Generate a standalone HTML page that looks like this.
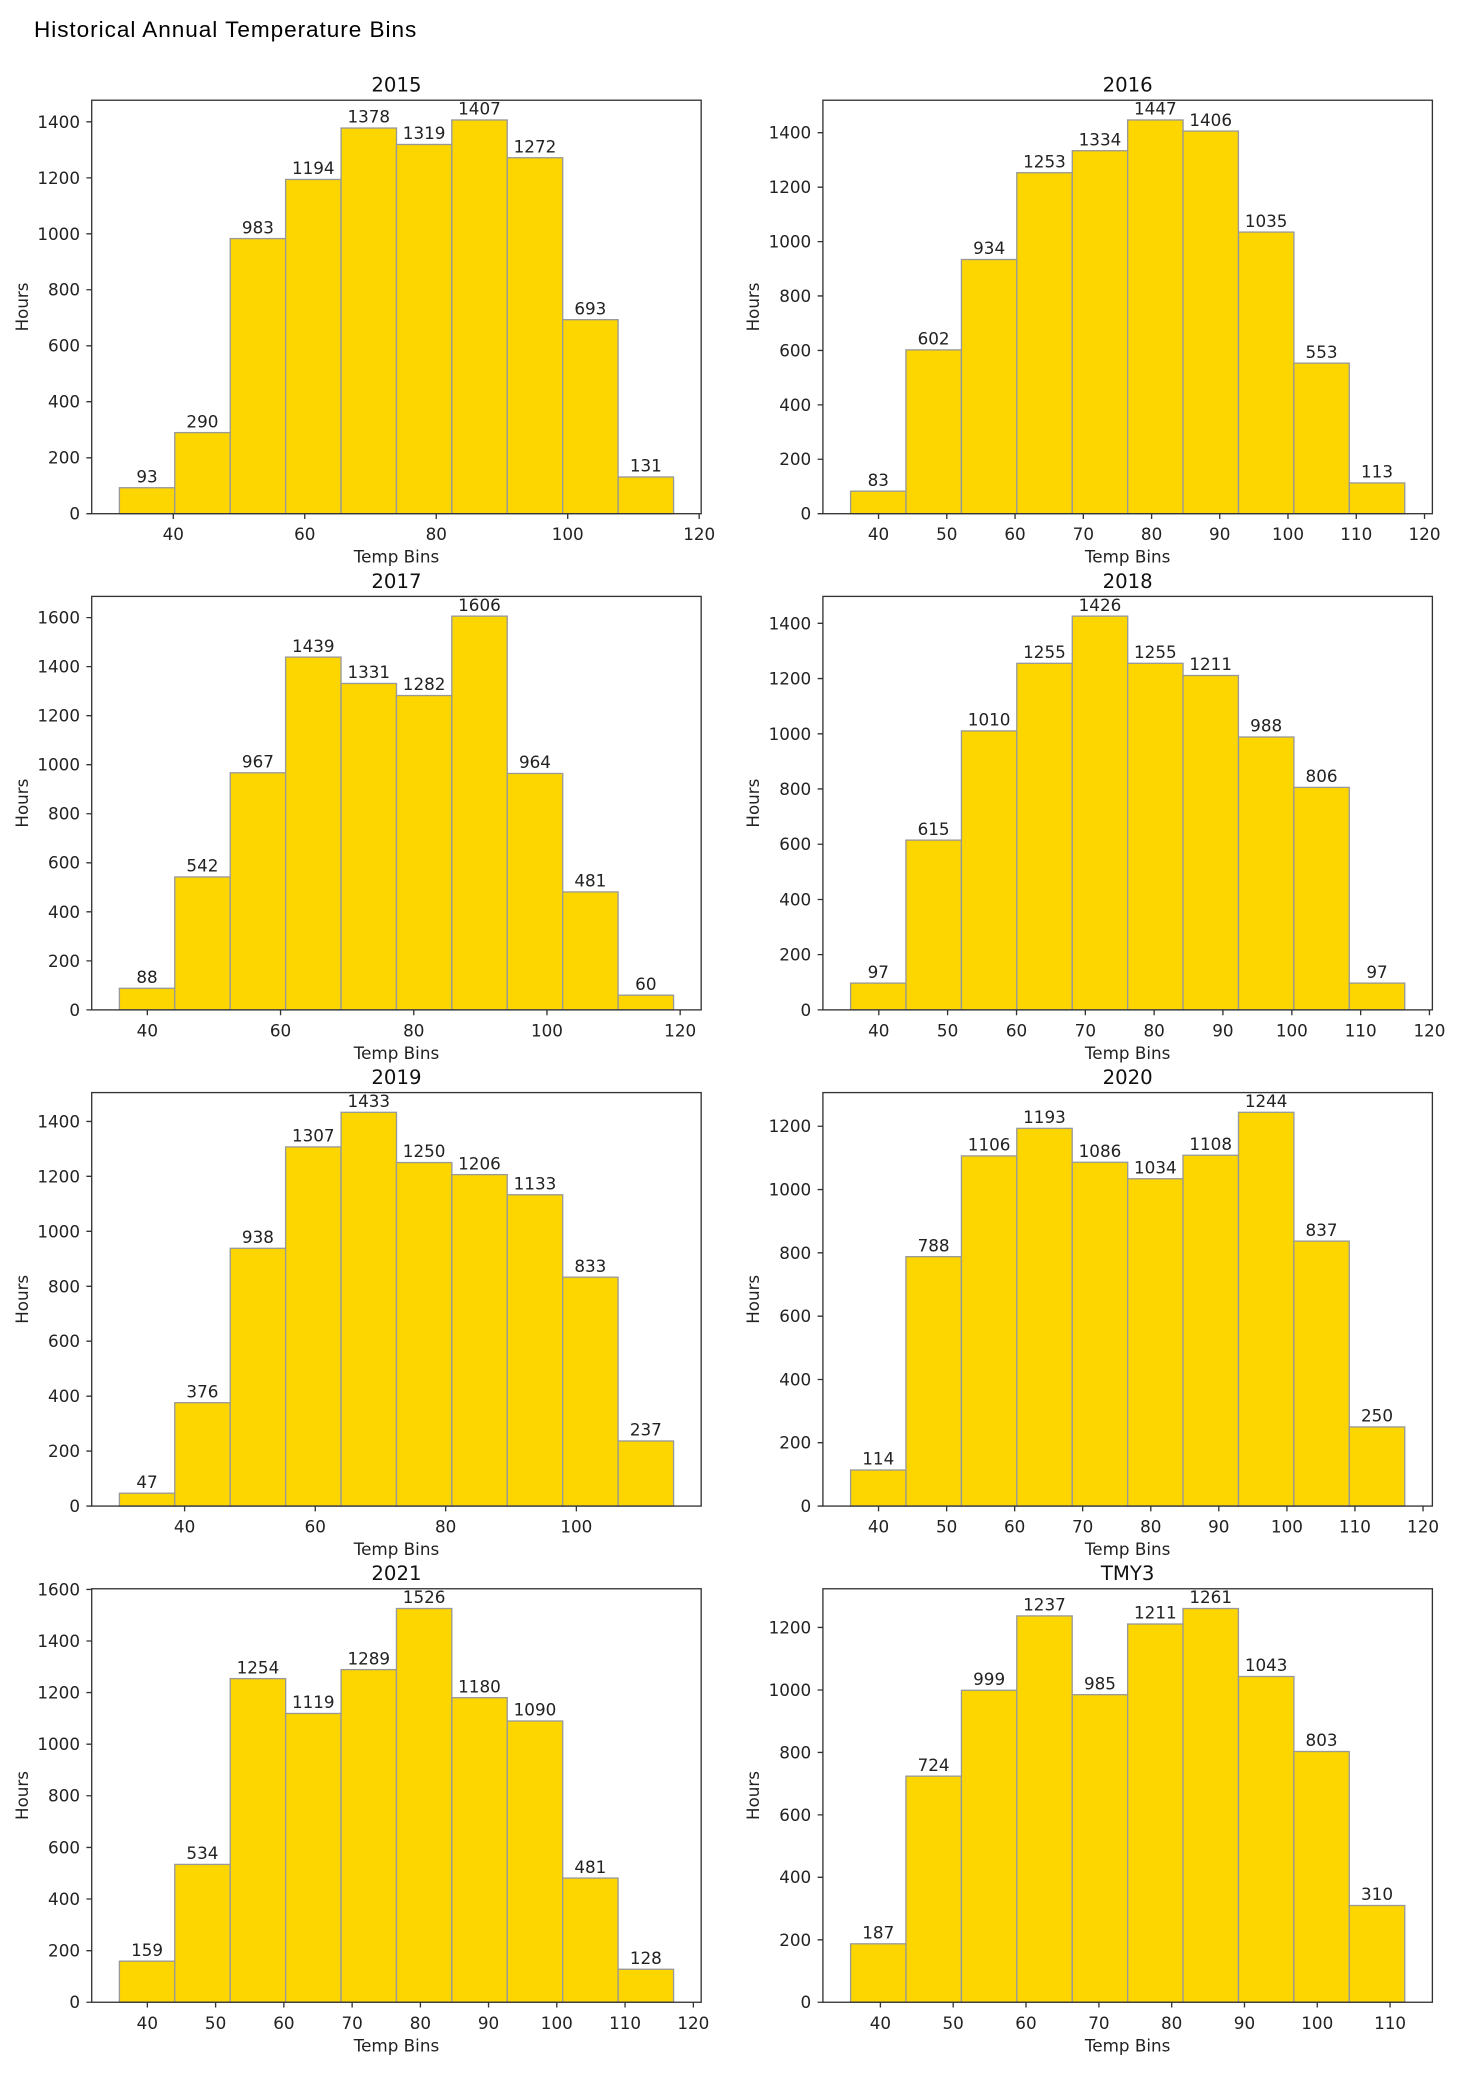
<!DOCTYPE html>
<html><head><meta charset="utf-8"><style>html,body{margin:0;padding:0;background:#fff}svg{display:block}</style></head>
<body>
<svg width="1460" height="2088" viewBox="0 0 1100 1573" preserveAspectRatio="none" xmlns="http://www.w3.org/2000/svg" font-family="'DejaVu Sans', 'Liberation Sans', sans-serif">
<style>
.b{fill:#FDD600;stroke:#999;stroke-width:1}
.ax{fill:none;stroke:#333;stroke-width:1}
.t{font-size:12.6px;fill:#222}
.tk{stroke:#333;stroke-width:1}
.ti{font-size:14.8px;fill:#111;text-anchor:middle}
.m{text-anchor:middle}
.e{text-anchor:end}
</style>
<text x="25.6" y="28" font-family="'Liberation Sans', sans-serif" font-size="17" fill="#000" textLength="288">Historical Annual Temperature Bins</text>

<!-- 2015 -->
<g transform="translate(69.1,75.5) scale(1.0026,0.9984)">
<rect class="b" x="20.8" y="292.4" width="41.64" height="19.6"/>
<rect class="b" x="62.4" y="250.8" width="41.64" height="61.2"/>
<rect class="b" x="104.1" y="104.4" width="41.64" height="207.6"/>
<rect class="b" x="145.7" y="59.8" width="41.64" height="252.2"/>
<rect class="b" x="187.4" y="21.0" width="41.64" height="291"/>
<rect class="b" x="229.0" y="33.4" width="41.64" height="278.6"/>
<rect class="b" x="270.6" y="14.9" width="41.64" height="297.1"/>
<rect class="b" x="312.3" y="43.4" width="41.64" height="268.6"/>
<rect class="b" x="353.9" y="165.6" width="41.64" height="146.4"/>
<rect class="b" x="395.6" y="284.3" width="41.64" height="27.7"/>
<rect class="ax" x="0" y="0" width="458" height="312"/>
<g class="t m">
<text x="41.6" y="288.4">93</text><text x="83.2" y="246.8">290</text><text x="124.9" y="100.4">983</text><text x="166.5" y="55.8">1194</text><text x="208.2" y="17">1378</text><text x="249.8" y="29.4">1319</text><text x="291.4" y="10.9">1407</text><text x="333.1" y="39.4">1272</text><text x="374.7" y="161.6">693</text><text x="416.4" y="280.3">131</text>
<text x="61.3" y="332">40</text><text x="160.1" y="332">60</text><text x="258.9" y="332">80</text><text x="357.7" y="332">100</text><text x="456.5" y="332">120</text>
<text x="229" y="349">Temp Bins</text>
</g>
<path class="tk" d="M61.3 312v4M160.1 312v4M258.9 312v4M357.7 312v4M456.5 312v4M0 312h-4M0 269.8h-4M0 227.5h-4M0 185.3h-4M0 143h-4M0 100.8h-4M0 58.6h-4M0 16.3h-4"/>
<g class="t e"><text x="-8.8" y="316.5">0</text><text x="-8.8" y="274.3">200</text><text x="-8.8" y="232">400</text><text x="-8.8" y="189.8">600</text><text x="-8.8" y="147.5">800</text><text x="-8.8" y="105.3">1000</text><text x="-8.8" y="63.1">1200</text><text x="-8.8" y="20.8">1400</text></g>
<text class="t m" transform="translate(-48,156) rotate(-90)">Hours</text>
<text class="ti" x="229" y="-6.5">2015</text>
</g>

<!-- 2016 -->
<g transform="translate(620,75.5) scale(1.0026,0.9984)">
<rect class="b" x="20.8" y="295.0" width="41.64" height="17"/>
<rect class="b" x="62.4" y="188.4" width="41.64" height="123.6"/>
<rect class="b" x="104.1" y="120.2" width="41.64" height="191.8"/>
<rect class="b" x="145.7" y="54.7" width="41.64" height="257.3"/>
<rect class="b" x="187.4" y="38.1" width="41.64" height="273.9"/>
<rect class="b" x="229.0" y="14.9" width="41.64" height="297.1"/>
<rect class="b" x="270.6" y="23.3" width="41.64" height="288.7"/>
<rect class="b" x="312.3" y="99.5" width="41.64" height="212.5"/>
<rect class="b" x="353.9" y="198.4" width="41.64" height="113.6"/>
<rect class="b" x="395.6" y="288.8" width="41.64" height="23.2"/>
<rect class="ax" x="0" y="0" width="458" height="312"/>
<g class="t m">
<text x="41.6" y="291">83</text><text x="83.2" y="184.4">602</text><text x="124.9" y="116.2">934</text><text x="166.5" y="50.7">1253</text><text x="208.2" y="34.1">1334</text><text x="249.8" y="10.9">1447</text><text x="291.4" y="19.3">1406</text><text x="333.1" y="95.5">1035</text><text x="374.7" y="194.4">553</text><text x="416.4" y="284.8">113</text>
<text x="41.8" y="332">40</text><text x="93.1" y="332">50</text><text x="144.4" y="332">60</text><text x="195.7" y="332">70</text><text x="247" y="332">80</text><text x="298.2" y="332">90</text><text x="349.5" y="332">100</text><text x="400.8" y="332">110</text><text x="452.1" y="332">120</text>
<text x="229" y="349">Temp Bins</text>
</g>
<path class="tk" d="M41.8 312v4M93.1 312v4M144.4 312v4M195.7 312v4M247 312v4M298.2 312v4M349.5 312v4M400.8 312v4M452.1 312v4M0 312h-4M0 270.9h-4M0 229.9h-4M0 188.8h-4M0 147.7h-4M0 106.7h-4M0 65.6h-4M0 24.5h-4"/>
<g class="t e"><text x="-8.8" y="316.5">0</text><text x="-8.8" y="275.4">200</text><text x="-8.8" y="234.4">400</text><text x="-8.8" y="193.3">600</text><text x="-8.8" y="152.2">800</text><text x="-8.8" y="111.2">1000</text><text x="-8.8" y="70.1">1200</text><text x="-8.8" y="29">1400</text></g>
<text class="t m" transform="translate(-48,156) rotate(-90)">Hours</text>
<text class="ti" x="229" y="-6.5">2016</text>
</g>

<!-- 2017 -->
<g transform="translate(69.1,449.3) scale(1.0026,0.9984)">
<rect class="b" x="20.8" y="295.7" width="41.64" height="16.3"/>
<rect class="b" x="62.4" y="211.7" width="41.64" height="100.3"/>
<rect class="b" x="104.1" y="133.1" width="41.64" height="178.9"/>
<rect class="b" x="145.7" y="45.8" width="41.64" height="266.2"/>
<rect class="b" x="187.4" y="65.7" width="41.64" height="246.3"/>
<rect class="b" x="229.0" y="74.8" width="41.64" height="237.2"/>
<rect class="b" x="270.6" y="14.9" width="41.64" height="297.1"/>
<rect class="b" x="312.3" y="133.6" width="41.64" height="178.4"/>
<rect class="b" x="353.9" y="223.0" width="41.64" height="89"/>
<rect class="b" x="395.6" y="300.9" width="41.64" height="11.1"/>
<rect class="ax" x="0" y="0" width="458" height="312"/>
<g class="t m">
<text x="41.6" y="291.7">88</text><text x="83.2" y="207.7">542</text><text x="124.9" y="129.1">967</text><text x="166.5" y="41.8">1439</text><text x="208.2" y="61.7">1331</text><text x="249.8" y="70.8">1282</text><text x="291.4" y="10.9">1606</text><text x="333.1" y="129.6">964</text><text x="374.7" y="219">481</text><text x="416.4" y="296.9">60</text>
<text x="41.8" y="332">40</text><text x="141.9" y="332">60</text><text x="242" y="332">80</text><text x="342.1" y="332">100</text><text x="442.2" y="332">120</text>
<text x="229" y="349">Temp Bins</text>
</g>
<path class="tk" d="M41.8 312v4M141.9 312v4M242 312v4M342.1 312v4M442.2 312v4M0 312h-4M0 275h-4M0 238h-4M0 201h-4M0 164h-4M0 127h-4M0 90h-4M0 53h-4M0 16h-4"/>
<g class="t e"><text x="-8.8" y="316.5">0</text><text x="-8.8" y="279.5">200</text><text x="-8.8" y="242.5">400</text><text x="-8.8" y="205.5">600</text><text x="-8.8" y="168.5">800</text><text x="-8.8" y="131.5">1000</text><text x="-8.8" y="94.5">1200</text><text x="-8.8" y="57.5">1400</text><text x="-8.8" y="20.5">1600</text></g>
<text class="t m" transform="translate(-48,156) rotate(-90)">Hours</text>
<text class="ti" x="229" y="-6.5">2017</text>
</g>

<!-- 2018 -->
<g transform="translate(620,449.3) scale(1.0026,0.9984)">
<rect class="b" x="20.8" y="291.8" width="41.64" height="20.2"/>
<rect class="b" x="62.4" y="183.9" width="41.64" height="128.1"/>
<rect class="b" x="104.1" y="101.5" width="41.64" height="210.5"/>
<rect class="b" x="145.7" y="50.5" width="41.64" height="261.5"/>
<rect class="b" x="187.4" y="14.9" width="41.64" height="297.1"/>
<rect class="b" x="229.0" y="50.5" width="41.64" height="261.5"/>
<rect class="b" x="270.6" y="59.7" width="41.64" height="252.3"/>
<rect class="b" x="312.3" y="106.1" width="41.64" height="205.9"/>
<rect class="b" x="353.9" y="144.1" width="41.64" height="167.9"/>
<rect class="b" x="395.6" y="291.8" width="41.64" height="20.2"/>
<rect class="ax" x="0" y="0" width="458" height="312"/>
<g class="t m">
<text x="41.6" y="287.8">97</text><text x="83.2" y="179.9">615</text><text x="124.9" y="97.5">1010</text><text x="166.5" y="46.5">1255</text><text x="208.2" y="10.9">1426</text><text x="249.8" y="46.5">1255</text><text x="291.4" y="55.7">1211</text><text x="333.1" y="102.1">988</text><text x="374.7" y="140.1">806</text><text x="416.4" y="287.8">97</text>
<text x="42" y="332">40</text><text x="93.7" y="332">50</text><text x="145.5" y="332">60</text><text x="197.2" y="332">70</text><text x="248.9" y="332">80</text><text x="300.6" y="332">90</text><text x="352.4" y="332">100</text><text x="404.1" y="332">110</text><text x="455.8" y="332">120</text>
<text x="229" y="349">Temp Bins</text>
</g>
<path class="tk" d="M42 312v4M93.7 312v4M145.5 312v4M197.2 312v4M248.9 312v4M300.6 312v4M352.4 312v4M404.1 312v4M455.8 312v4M0 312h-4M0 270.3h-4M0 228.7h-4M0 187h-4M0 145.3h-4M0 103.7h-4M0 62h-4M0 20.3h-4"/>
<g class="t e"><text x="-8.8" y="316.5">0</text><text x="-8.8" y="274.8">200</text><text x="-8.8" y="233.2">400</text><text x="-8.8" y="191.5">600</text><text x="-8.8" y="149.8">800</text><text x="-8.8" y="108.2">1000</text><text x="-8.8" y="66.5">1200</text><text x="-8.8" y="24.8">1400</text></g>
<text class="t m" transform="translate(-48,156) rotate(-90)">Hours</text>
<text class="ti" x="229" y="-6.5">2018</text>
</g>

<!-- 2019 -->
<g transform="translate(69.1,823.1) scale(1.0026,0.9984)">
<rect class="b" x="20.8" y="302.3" width="41.64" height="9.7"/>
<rect class="b" x="62.4" y="234.0" width="41.64" height="78"/>
<rect class="b" x="104.1" y="117.5" width="41.64" height="194.5"/>
<rect class="b" x="145.7" y="41.0" width="41.64" height="271"/>
<rect class="b" x="187.4" y="14.9" width="41.64" height="297.1"/>
<rect class="b" x="229.0" y="52.8" width="41.64" height="259.2"/>
<rect class="b" x="270.6" y="61.9" width="41.64" height="250.1"/>
<rect class="b" x="312.3" y="77.1" width="41.64" height="234.9"/>
<rect class="b" x="353.9" y="139.3" width="41.64" height="172.7"/>
<rect class="b" x="395.6" y="262.9" width="41.64" height="49.1"/>
<rect class="ax" x="0" y="0" width="458" height="312"/>
<g class="t m">
<text x="41.6" y="298.3">47</text><text x="83.2" y="230">376</text><text x="124.9" y="113.5">938</text><text x="166.5" y="37">1307</text><text x="208.2" y="10.9">1433</text><text x="249.8" y="48.8">1250</text><text x="291.4" y="57.9">1206</text><text x="333.1" y="73.1">1133</text><text x="374.7" y="135.3">833</text><text x="416.4" y="258.9">237</text>
<text x="69.8" y="332">40</text><text x="168" y="332">60</text><text x="266" y="332">80</text><text x="364.2" y="332">100</text>
<text x="229" y="349">Temp Bins</text>
</g>
<path class="tk" d="M69.8 312v4M168 312v4M266 312v4M364.2 312v4M0 312h-4M0 270.5h-4M0 229.1h-4M0 187.6h-4M0 146.2h-4M0 104.7h-4M0 63.2h-4M0 21.8h-4"/>
<g class="t e"><text x="-8.8" y="316.5">0</text><text x="-8.8" y="275">200</text><text x="-8.8" y="233.6">400</text><text x="-8.8" y="192.1">600</text><text x="-8.8" y="150.7">800</text><text x="-8.8" y="109.2">1000</text><text x="-8.8" y="67.7">1200</text><text x="-8.8" y="26.3">1400</text></g>
<text class="t m" transform="translate(-48,156) rotate(-90)">Hours</text>
<text class="ti" x="229" y="-6.5">2019</text>
</g>

<!-- 2020 -->
<g transform="translate(620,823.1) scale(1.0026,0.9984)">
<rect class="b" x="20.8" y="284.8" width="41.64" height="27.2"/>
<rect class="b" x="62.4" y="123.8" width="41.64" height="188.2"/>
<rect class="b" x="104.1" y="47.8" width="41.64" height="264.2"/>
<rect class="b" x="145.7" y="27.0" width="41.64" height="285"/>
<rect class="b" x="187.4" y="52.6" width="41.64" height="259.4"/>
<rect class="b" x="229.0" y="65.0" width="41.64" height="247"/>
<rect class="b" x="270.6" y="47.3" width="41.64" height="264.7"/>
<rect class="b" x="312.3" y="14.9" width="41.64" height="297.1"/>
<rect class="b" x="353.9" y="112.1" width="41.64" height="199.9"/>
<rect class="b" x="395.6" y="252.3" width="41.64" height="59.7"/>
<rect class="ax" x="0" y="0" width="458" height="312"/>
<g class="t m">
<text x="41.6" y="280.8">114</text><text x="83.2" y="119.8">788</text><text x="124.9" y="43.8">1106</text><text x="166.5" y="23">1193</text><text x="208.2" y="48.6">1086</text><text x="249.8" y="61">1034</text><text x="291.4" y="43.3">1108</text><text x="333.1" y="10.9">1244</text><text x="374.7" y="108.1">837</text><text x="416.4" y="248.3">250</text>
<text x="41.8" y="332">40</text><text x="93" y="332">50</text><text x="144.1" y="332">60</text><text x="195.2" y="332">70</text><text x="246.4" y="332">80</text><text x="297.5" y="332">90</text><text x="348.7" y="332">100</text><text x="399.8" y="332">110</text><text x="451" y="332">120</text>
<text x="229" y="349">Temp Bins</text>
</g>
<path class="tk" d="M41.8 312v4M93 312v4M144.1 312v4M195.2 312v4M246.4 312v4M297.5 312v4M348.7 312v4M399.8 312v4M451 312v4M0 312h-4M0 264.2h-4M0 216.5h-4M0 168.7h-4M0 120.9h-4M0 73.2h-4M0 25.4h-4"/>
<g class="t e"><text x="-8.8" y="316.5">0</text><text x="-8.8" y="268.7">200</text><text x="-8.8" y="221">400</text><text x="-8.8" y="173.2">600</text><text x="-8.8" y="125.4">800</text><text x="-8.8" y="77.7">1000</text><text x="-8.8" y="29.9">1200</text></g>
<text class="t m" transform="translate(-48,156) rotate(-90)">Hours</text>
<text class="ti" x="229" y="-6.5">2020</text>
</g>

<!-- 2021 -->
<g transform="translate(69.1,1196.9) scale(1.0026,0.9984)">
<rect class="b" x="20.8" y="281.0" width="41.64" height="31"/>
<rect class="b" x="62.4" y="208.0" width="41.64" height="104"/>
<rect class="b" x="104.1" y="67.8" width="41.64" height="244.2"/>
<rect class="b" x="145.7" y="94.1" width="41.64" height="217.9"/>
<rect class="b" x="187.4" y="61.0" width="41.64" height="251"/>
<rect class="b" x="229.0" y="14.9" width="41.64" height="297.1"/>
<rect class="b" x="270.6" y="82.2" width="41.64" height="229.8"/>
<rect class="b" x="312.3" y="99.8" width="41.64" height="212.2"/>
<rect class="b" x="353.9" y="218.3" width="41.64" height="93.7"/>
<rect class="b" x="395.6" y="287.1" width="41.64" height="24.9"/>
<rect class="ax" x="0" y="0" width="458" height="312"/>
<g class="t m">
<text x="41.6" y="277">159</text><text x="83.2" y="204">534</text><text x="124.9" y="63.8">1254</text><text x="166.5" y="90.1">1119</text><text x="208.2" y="57">1289</text><text x="249.8" y="10.9">1526</text><text x="291.4" y="78.2">1180</text><text x="333.1" y="95.8">1090</text><text x="374.7" y="214.3">481</text><text x="416.4" y="283.1">128</text>
<text x="41.8" y="332">40</text><text x="93.1" y="332">50</text><text x="144.4" y="332">60</text><text x="195.7" y="332">70</text><text x="247" y="332">80</text><text x="298.2" y="332">90</text><text x="349.5" y="332">100</text><text x="400.8" y="332">110</text><text x="452.1" y="332">120</text>
<text x="229" y="349">Temp Bins</text>
</g>
<path class="tk" d="M41.8 312v4M93.1 312v4M144.4 312v4M195.7 312v4M247 312v4M298.2 312v4M349.5 312v4M400.8 312v4M452.1 312v4M0 312h-4M0 273.1h-4M0 234.1h-4M0 195.2h-4M0 156.2h-4M0 117.3h-4M0 78.3h-4M0 39.4h-4M0 0.5h-4"/>
<g class="t e"><text x="-8.8" y="316.5">0</text><text x="-8.8" y="277.6">200</text><text x="-8.8" y="238.6">400</text><text x="-8.8" y="199.7">600</text><text x="-8.8" y="160.7">800</text><text x="-8.8" y="121.8">1000</text><text x="-8.8" y="82.8">1200</text><text x="-8.8" y="43.9">1400</text><text x="-8.8" y="5">1600</text></g>
<text class="t m" transform="translate(-48,156) rotate(-90)">Hours</text>
<text class="ti" x="229" y="-6.5">2021</text>
</g>

<!-- TMY3 -->
<g transform="translate(620,1196.9) scale(1.0026,0.9984)">
<rect class="b" x="20.8" y="267.9" width="41.64" height="44.1"/>
<rect class="b" x="62.4" y="141.4" width="41.64" height="170.6"/>
<rect class="b" x="104.1" y="76.6" width="41.64" height="235.4"/>
<rect class="b" x="145.7" y="20.5" width="41.64" height="291.5"/>
<rect class="b" x="187.4" y="79.9" width="41.64" height="232.1"/>
<rect class="b" x="229.0" y="26.6" width="41.64" height="285.4"/>
<rect class="b" x="270.6" y="14.9" width="41.64" height="297.1"/>
<rect class="b" x="312.3" y="66.2" width="41.64" height="245.8"/>
<rect class="b" x="353.9" y="122.8" width="41.64" height="189.2"/>
<rect class="b" x="395.6" y="239.0" width="41.64" height="73"/>
<rect class="ax" x="0" y="0" width="458" height="312"/>
<g class="t m">
<text x="41.6" y="263.9">187</text><text x="83.2" y="137.4">724</text><text x="124.9" y="72.6">999</text><text x="166.5" y="16.5">1237</text><text x="208.2" y="75.9">985</text><text x="249.8" y="22.6">1211</text><text x="291.4" y="10.9">1261</text><text x="333.1" y="62.2">1043</text><text x="374.7" y="118.8">803</text><text x="416.4" y="235">310</text>
<text x="43.2" y="332">40</text><text x="97.9" y="332">50</text><text x="152.6" y="332">60</text><text x="207.4" y="332">70</text><text x="262.1" y="332">80</text><text x="316.8" y="332">90</text><text x="371.5" y="332">100</text><text x="426.2" y="332">110</text>
<text x="229" y="349">Temp Bins</text>
</g>
<path class="tk" d="M43.2 312v4M97.9 312v4M152.6 312v4M207.4 312v4M262.1 312v4M316.8 312v4M371.5 312v4M426.2 312v4M0 312h-4M0 264.9h-4M0 217.7h-4M0 170.6h-4M0 123.5h-4M0 76.4h-4M0 29.2h-4"/>
<g class="t e"><text x="-8.8" y="316.5">0</text><text x="-8.8" y="269.4">200</text><text x="-8.8" y="222.2">400</text><text x="-8.8" y="175.1">600</text><text x="-8.8" y="128">800</text><text x="-8.8" y="80.9">1000</text><text x="-8.8" y="33.7">1200</text></g>
<text class="t m" transform="translate(-48,156) rotate(-90)">Hours</text>
<text class="ti" x="229" y="-6.5">TMY3</text>
</g>
</svg>
</body></html>
